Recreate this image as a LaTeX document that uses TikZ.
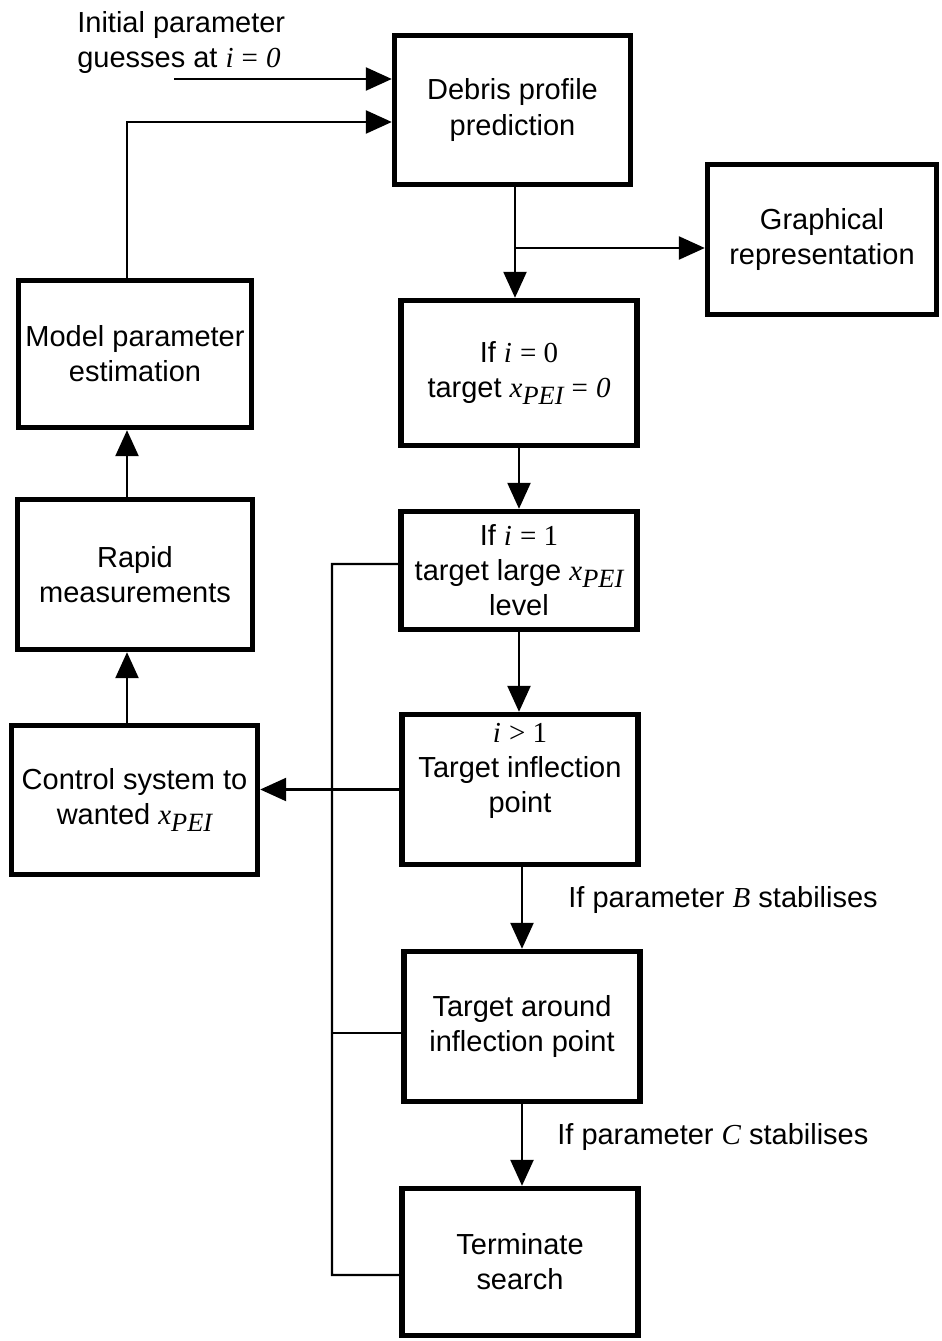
\documentclass[tikz,border=0pt]{standalone}
\usepackage{fontspec}
\setmainfont{Liberation Sans}
\newfontfamily\tnr{Liberation Serif}
\usetikzlibrary{arrows.meta}

\newcommand{\mv}[1]{{\tnr\itshape #1}}
\newcommand{\tm}[1]{{\tnr #1}}
\newcommand{\xpei}{{\tnr\itshape x\raisebox{-0.22em}{\fontsize{15}{15}\selectfont PEI}}}

\tikzset{
    box/.style={draw, line width=3.1pt, align=center, minimum width=4.72cm, minimum height=2.98cm, inner sep=2pt},
    arr/.style={line width=1.4pt, -{Triangle[length=0.52cm, width=0.46cm]}},
    link/.style={line width=1.4pt},
    note/.style={align=left, inner sep=0pt, anchor=west}
}

\begin{document}
\begin{tikzpicture}[x=0.02cm, y=-0.02cm, font=\fontsize{16.5}{20}\selectfont]
    \useasboundingbox (0,0) rectangle (942,1341);

    \node[box] (debris) at (512.5,110) {Debris profile\\prediction};
    \node[box, minimum width=4.58cm, minimum height=3cm] (graph) at (822,239.5) {Graphical\\representation};
    \node[box, minimum height=2.9cm] (cond0) at (519,373) {If \mv{i} \tm{= 0}\\target \xpei{} \tm{=} \mv{0}};
    \node[box, minimum height=2.36cm] (cond1) at (519,570.5) {If \mv{i} \tm{= 1}\\target large \xpei\\level};
    \node[box, minimum height=3cm] (cond2) at (520,789.5) {};
    \node[align=center] (cond2txt) at (520,771) {\mv{i} \tm{> 1}\\Target inflection\\point};
    \node[box, minimum height=3cm] (around) at (522,1026.5) {Target around\\inflection point};
    \node[box, minimum height=2.94cm] (stop) at (520,1262) {Terminate\\search};

    \node[box, minimum width=4.66cm, minimum height=2.94cm] (model) at (135,354) {Model parameter\\estimation};
    \node[box, minimum width=4.7cm, minimum height=3cm] (rapid) at (135,574.5) {Rapid\\measurements};
    \node[box, minimum width=4.92cm, minimum height=2.98cm] (control) at (134.5,800) {Control system to\\wanted \xpei};

    \node[note] (init) at (77,42.5) {Initial parameter\\guesses at \mv{i} \tm{=} \mv{0}};
    \node[note] (condB) at (568,900) {If parameter \mv{B} stabilises};
    \node[note] (condC) at (557,1137) {If parameter \mv{C} stabilises};

    \coordinate (start) at (174,79);
    \coordinate (back) at (127,122);
    \coordinate (split) at (515,248);
    \coordinate (bus) at (332,564);
    \coordinate (aroundin) at ([yshift=-0.13cm]around.west);
    \coordinate (stopin) at ([yshift=-0.26cm]stop.west);

    \draw[arr] (start) -- (start -| debris.west);
    \draw[arr] (model.north -| back) -- (back) -- (back -| debris.west);
    \draw[arr] (split |- debris.south) -- (split |- cond0.north);
    \draw[arr] (split) -- (split -| graph.west);

    \draw[arr] (cond0) -- (cond0 |- cond1.north);
    \draw[arr] (cond1) -- (cond1 |- cond2.north);
    \draw[arr] (around |- cond2.south) -- (around);
    \draw[arr] (around) -- (around |- stop.north);

    \draw[arr] (cond2.west) -- (cond2.west -| control.east);
    \draw[arr] (control.north -| back) -- (rapid.south -| back);
    \draw[arr] (rapid.north -| back) -- (model.south -| back);

    \draw[link] ([yshift=0.13cm]cond1.west) -- (bus) -- (bus |- stopin) -- (stopin);
    \draw[link] (aroundin) -- (aroundin -| bus);
\end{tikzpicture}
\end{document}
